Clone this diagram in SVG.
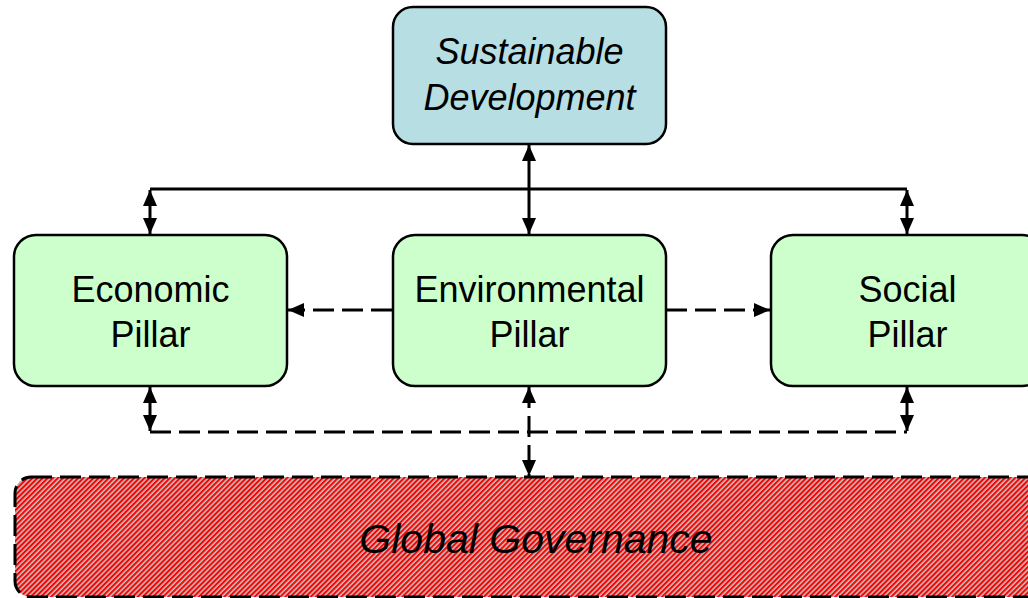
<svg xmlns="http://www.w3.org/2000/svg" width="1028" height="598" viewBox="0 0 1028 598">
<style>
.box{stroke:#000;stroke-width:2.5}
.pillar{fill:#ccffcc}
.t{font-family:"Liberation Sans",Arial,sans-serif;font-size:36px;fill:#000;text-anchor:middle}
.it{font-style:italic}
.ln{fill:none;stroke:#000;stroke-width:3}
.dash{stroke-dasharray:21 8}
</style>
<defs>
<marker id="ah" markerUnits="userSpaceOnUse" markerWidth="18" markerHeight="18" viewBox="0 0 18 18" refX="16" refY="9" orient="auto-start-reverse">
<path d="M0,2 L16,9 L0,16 Z" fill="#000"/>
</marker>
<pattern id="hatch" patternUnits="userSpaceOnUse" width="3.6" height="4" patternTransform="rotate(45)">
<rect width="3.6" height="4" fill="#c0c0c0"/>
<rect width="2" height="4" fill="#ff0000"/>
</pattern>
</defs>
<g id="connectors">
<path class="ln" d="M150,189 H907"/>
<path class="ln" d="M150,190 V234" marker-start="url(#ah)" marker-end="url(#ah)"/>
<path class="ln" d="M907,190 V234" marker-start="url(#ah)" marker-end="url(#ah)"/>
<path class="ln" d="M529,145 V234" marker-start="url(#ah)" marker-end="url(#ah)"/>
<path class="ln dash" d="M392,310 H288" marker-end="url(#ah)"/>
<path class="ln dash" d="M666,310 H770" marker-end="url(#ah)"/>
<path class="ln" d="M150,387 V431" marker-start="url(#ah)" marker-end="url(#ah)"/>
<path class="ln" d="M907,387 V431" marker-start="url(#ah)" marker-end="url(#ah)"/>
<path class="ln dash" d="M150,432 H907"/>
<path class="ln dash" d="M529,387 V476" marker-start="url(#ah)" marker-end="url(#ah)"/>
</g>
<g id="sustainable">
<rect class="box" x="393" y="7" width="273" height="137" rx="20" fill="#b7dee3"/>
<text class="t it" x="529.5" y="64">Sustainable</text>
<text class="t it" x="529.5" y="110">Development</text>
</g>
<g id="economic">
<rect class="box pillar" x="14" y="235" width="273" height="151" rx="22"/>
<text class="t" x="150.5" y="302">Economic</text>
<text class="t" x="150.5" y="347">Pillar</text>
</g>
<g id="environmental">
<rect class="box pillar" x="393" y="235" width="273" height="151" rx="22"/>
<text class="t" x="529.5" y="302">Environmental</text>
<text class="t" x="529.5" y="347">Pillar</text>
</g>
<g id="social">
<rect class="box pillar" x="771" y="235" width="273" height="151" rx="22"/>
<text class="t" x="907.5" y="302">Social</text>
<text class="t" x="907.5" y="347">Pillar</text>
</g>
<g id="global">
<rect x="15" y="477" width="1030" height="120" rx="16" fill="url(#hatch)" stroke="#000" stroke-width="3" stroke-dasharray="21 8"/>
<text class="t it" x="536" y="553" style="font-size:41px">Global Governance</text>
</g>
</svg>
